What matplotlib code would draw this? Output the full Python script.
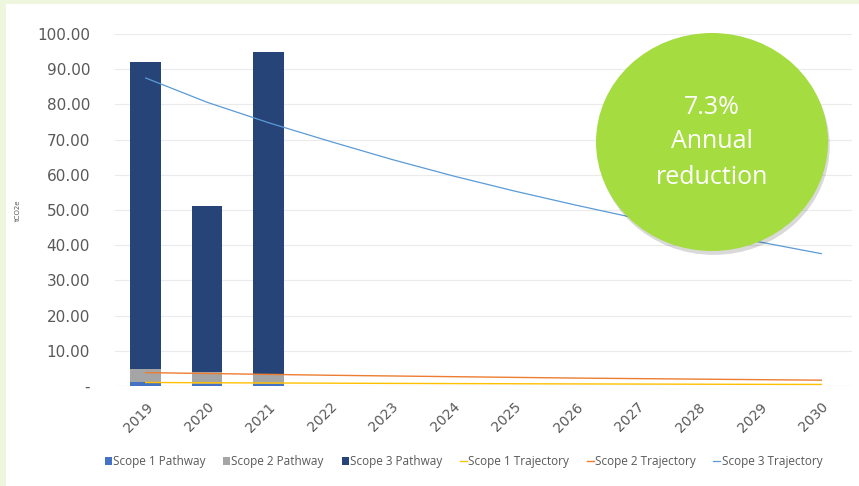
import numpy as np
import matplotlib
matplotlib.use("Agg")
import matplotlib.pyplot as plt
from matplotlib.patches import Ellipse, Rectangle

years = ["2019", "2020", "2021", "2022", "2023", "2024", "2025", "2026", "2027", "2028", "2029", "2030"]

# pathway (actuals) - only 2019-2021
scope1_pathway = [1.0, 0.7, 0.7]
scope2_pathway = [3.8, 3.3, 2.7]
scope3_pathway = [87.2, 47.2, 91.6]

# trajectories
scope1_traj = [1.0, 0.93, 0.86, 0.80, 0.74, 0.69, 0.64, 0.59, 0.55, 0.51, 0.47, 0.45]
scope2_traj = [3.8, 3.55, 3.3, 3.05, 2.85, 2.65, 2.45, 2.25, 2.1, 1.95, 1.8, 1.65]
scope3_traj = [87.5, 80.6, 74.8, 69.5, 64.4, 59.7, 55.4, 51.4, 47.6, 44.1, 40.9, 37.6]

tick_color = "#595959"

fig = plt.figure(figsize=(8.59, 4.86), dpi=100)
fig.patch.set_facecolor("white")
# light green frame on the left and top
fig.patches.append(Rectangle((0, 0), 6 / 859, 1, transform=fig.transFigure,
                             facecolor="#EEF7DE", edgecolor="none", zorder=-5))
fig.patches.append(Rectangle((0, 1 - 4 / 486), 1, 4 / 486, transform=fig.transFigure,
                             facecolor="#EEF7DE", edgecolor="none", zorder=-5))

ax = fig.add_axes([115 / 859, 1 - 386 / 486, 737 / 859, 352 / 486])
ax.set_facecolor("none")

x = np.arange(len(years))
xb = x[:len(scope1_pathway)]
s1 = np.array(scope1_pathway)
s2 = np.array(scope2_pathway)
s3 = np.array(scope3_pathway)

b1 = ax.bar(xb, s1, 0.5, color="#4472C4", label="Scope 1 Pathway", zorder=2)
b2 = ax.bar(xb, s2, 0.5, bottom=s1, color="#A5A5A5", label="Scope 2 Pathway", zorder=2)
b3 = ax.bar(xb, s3, 0.5, bottom=s1 + s2, color="#264478", label="Scope 3 Pathway", zorder=2)

l1, = ax.plot(x, scope1_traj, color="#FFC000", lw=1, label="Scope 1 Trajectory", zorder=3)
l2, = ax.plot(x, scope2_traj, color="#ED7D31", lw=1, label="Scope 2 Trajectory", zorder=3)
l3, = ax.plot(x, scope3_traj, color="#5B9BD5", lw=0.9, label="Scope 3 Trajectory", zorder=3)

ax.set_xlim(-0.5, len(years) - 0.5)
ax.set_ylim(0, 100)
ax.set_yticks(np.arange(0, 101, 10))
ax.set_yticklabels(["-"] + [f"{v:.2f}" for v in range(10, 101, 10)])
ax.set_xticks(x)
ax.set_xticklabels(years, rotation=45, ha="right", rotation_mode="anchor")
ax.tick_params(axis="both", length=0, colors=tick_color, labelsize=11)
ax.tick_params(axis="y", pad=18)
ax.tick_params(axis="x", pad=10)
for lab in ax.get_xticklabels():
    lab.set_fontsize(10)

ax.grid(axis="y", color="#EBEBEB", lw=0.8, zorder=0)
ax.set_axisbelow(True)
for s in ax.spines.values():
    s.set_visible(False)
ax.axhline(0, color="#E0E0E0", lw=0.8, zorder=1)

fig.text(18 / 859, 1 - 210 / 486, "tCO2e", rotation=90, fontsize=5, color=tick_color,
         ha="center", va="center")

leg = ax.legend([b1, b2, b3, l1, l2, l3],
                ["Scope 1 Pathway", "Scope 2 Pathway", "Scope 3 Pathway",
                 "Scope 1 Trajectory", "Scope 2 Trajectory", "Scope 3 Trajectory"],
                loc="center", bbox_to_anchor=(0.5 - 20 / 737, -0.215), ncol=6, frameon=False,
                handlelength=0.6, handleheight=0.6, handletextpad=0.1, columnspacing=1.5,
                prop={"family": "Open Sans", "size": 8.5})
for t in leg.get_texts():
    t.set_color(tick_color)

# green badge
cx, cy = 712 / 859, 1 - 142 / 486
w, h = 232 / 859, 218 / 486
shadow = Ellipse((cx + 0.002, cy - 0.008), w, h, transform=fig.transFigure,
                 facecolor="#000000", alpha=0.15, edgecolor="none", zorder=5)
fig.patches.append(shadow)
badge = Ellipse((cx, cy), w, h, transform=fig.transFigure,
                facecolor="#A5DC40", edgecolor="none", zorder=6)
fig.patches.append(badge)
for txt, yy in [("7.3%", 107), ("Annual", 142), ("reduction", 178)]:
    fig.text(cx, 1 - yy / 486, txt, color="white", fontsize=18, family="Open Sans",
             ha="center", va="center", zorder=7)

fig.savefig("out.png", dpi=100, facecolor=fig.get_facecolor())
